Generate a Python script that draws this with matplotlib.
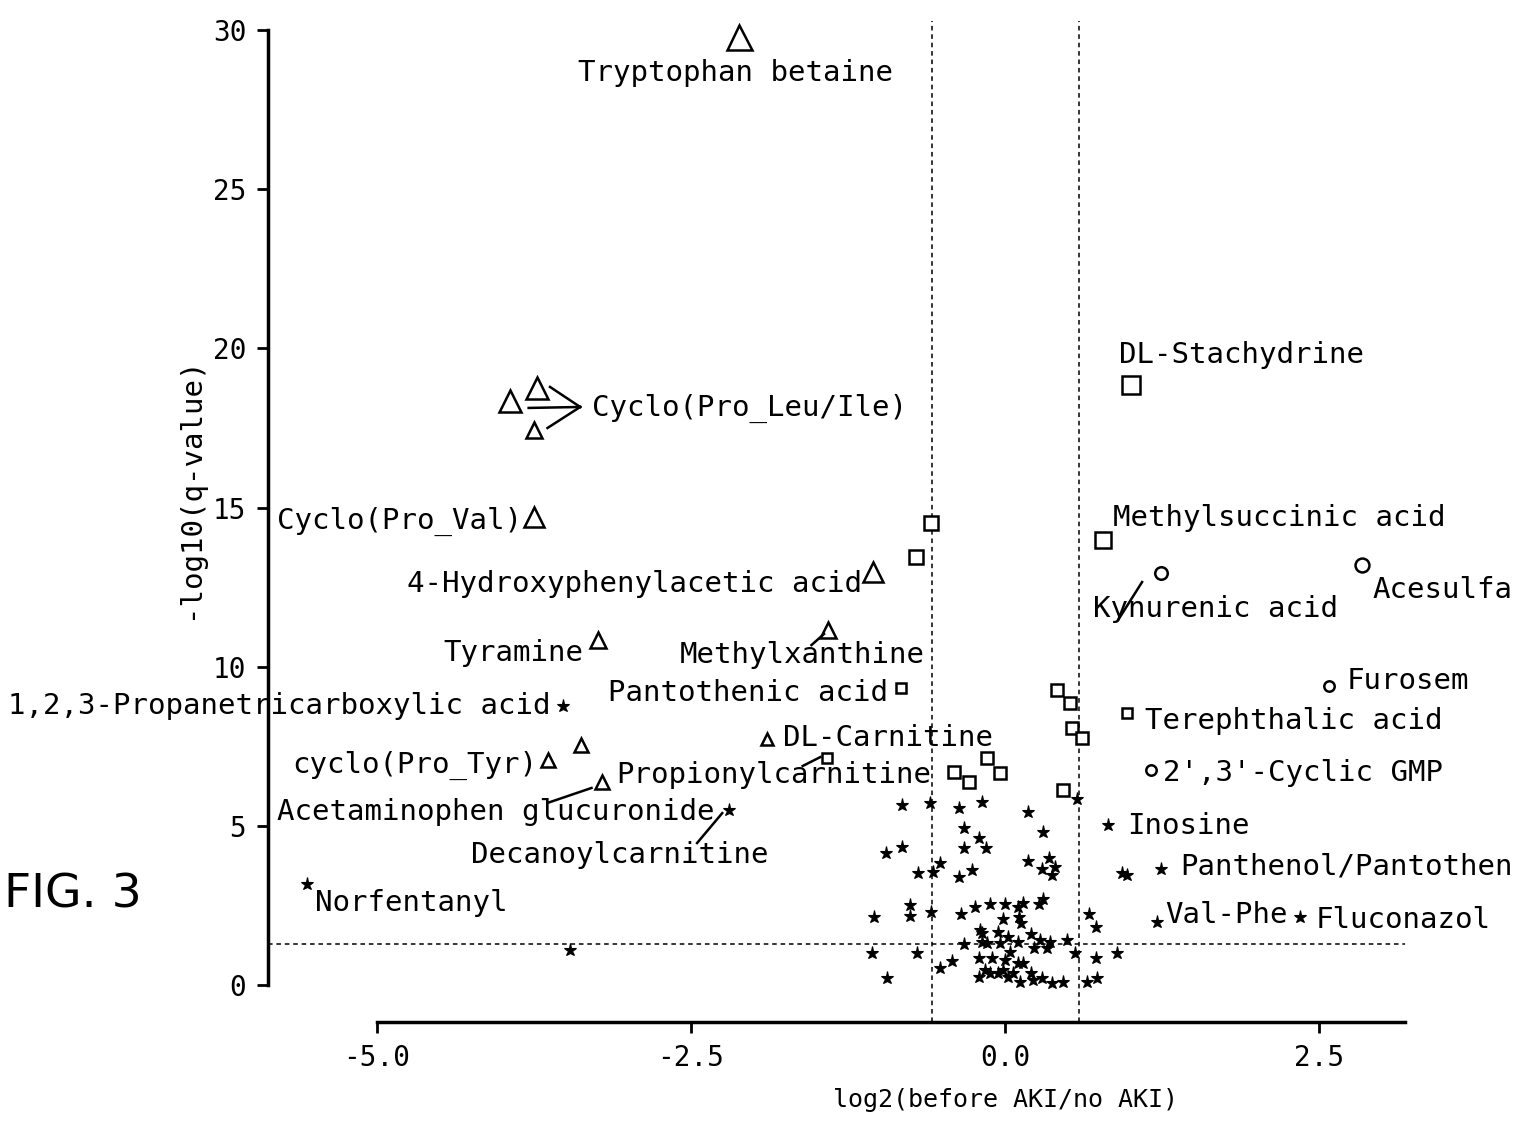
import matplotlib
matplotlib.use("Agg")
import matplotlib.pyplot as plt

plt.rcParams['font.family'] = ['DejaVu Sans Mono']

# open triangles
tri_x = [-2.12, -3.94, -3.72, -3.75, -3.75, -1.05, -1.41, -3.24, -3.64, -3.37, -3.21, -1.89]
tri_y = [29.78, 18.35, 18.76, 17.44, 14.70, 12.98, 11.15, 10.84, 7.07, 7.54, 6.38, 7.73]
# open squares
sq_x = [1.00, 0.78, -0.59, -0.71, -0.83, -1.42, -0.41, -0.29, -0.14, -0.04, 0.41, 0.52, 0.53, 0.61, 0.46, 0.97]
sq_y = [18.85, 13.98, 14.51, 13.45, 9.33, 7.13, 6.69, 6.38, 7.13, 6.66, 9.27, 8.86, 8.07, 7.76, 6.13, 8.55]
# open circles
circ_x = [1.24, 2.84, 2.58, 1.16]
circ_y = [12.94, 13.20, 9.39, 6.75]
# filled small markers
star_x = [-3.52, -2.20, -5.55, 0.82, 1.24, 1.21, 2.35, -3.46,
          -0.82, -0.60, -0.37, -0.18, 0.18, 0.57, -0.33, -0.21, -0.15, -0.33, 0.30,
          -0.95, -0.82, -0.69, -0.57, -0.52, -0.37, -0.26, 0.18, 0.29, 0.35, 0.40, 0.37,
          0.93, 0.97, -1.04, -0.76, -0.76, -0.59, -0.35, -0.24, -0.12, 0.00, 0.10, 0.14,
          0.11, 0.13, 0.27, 0.30, -0.02, 0.67, 0.72, -0.20, -0.18, -0.18, -0.06, 0.02,
          0.10, 0.21, 0.28, 0.36, 0.49, 0.56, -1.06, -0.70, -0.33, -0.14, -0.04, 0.23,
          0.33, -0.52, -0.42, -0.21, -0.10, 0.00, 0.04, -0.94, -0.21, -0.16, -0.12, -0.06,
          -0.02, 0.02, 0.06, 0.10, 0.14, 0.12, 0.21, 0.22, 0.29, 0.37, 0.46, 0.65, 0.73,
          0.72, 0.89]
star_y = [8.77, 5.50, 3.17, 5.03, 3.64, 1.98, 2.14, 1.10,
          5.66, 5.72, 5.56, 5.75, 5.44, 5.84, 4.93, 4.62, 4.30, 4.30, 4.81,
          4.15, 4.34, 3.52, 3.55, 3.83, 3.39, 3.61, 3.90, 3.64, 3.99, 3.71, 3.46,
          3.52, 3.46, 2.14, 2.51, 2.17, 2.29, 2.23, 2.45, 2.54, 2.54, 2.45, 2.58,
          2.14, 1.95, 2.54, 2.70, 2.07, 2.23, 1.82, 1.73, 1.63, 1.35, 1.67, 1.51,
          1.35, 1.60, 1.41, 1.35, 1.41, 1.01, 1.01, 1.01, 1.29, 1.32, 1.32, 1.16,
          1.16, 0.53, 0.75, 0.85, 0.85, 0.79, 1.04, 0.22, 0.25, 0.47, 0.38, 0.38,
          0.47, 0.25, 0.38, 0.69, 0.69, 0.09, 0.38, 0.16, 0.22, 0.06, 0.09, 0.09, 0.22,
          0.85, 1.01]

fc_cut = 0.585      # log2(1.5)
q_cut = 1.301       # -log10(0.05)

# marker sizes (points), styling only
tri_ms = [18, 16.5, 16.5, 11, 15, 14, 11, 11, 10.5, 9.5, 9.5, 9]
sq_ms = [13, 11.5, 10.5, 10.5, 7, 7, 8.5, 8.5, 8.5, 8.5, 8, 8, 8, 8, 8, 7]
circ_ms = [9, 10, 7.5, 7.5]

# label layout: text, left x, centre y
labels = [
    ("Tryptophan betaine", -3.40, 28.65),
    ("Cyclo(Pro_Leu/Ile)", -3.29, 18.13),
    ("Cyclo(Pro_Val)", -5.79, 14.55),
    ("4-Hydroxyphenylacetic acid", -4.76, 12.60),
    ("Tyramine", -4.47, 10.43),
    ("Methylxanthine", -2.59, 10.37),
    ("1,2,3-Propanetricarboxylic acid", -7.93, 8.77),
    ("Pantothenic acid", -3.16, 9.17),
    ("DL-Carnitine", -1.77, 7.76),
    ("cyclo(Pro_Tyr)", -5.67, 6.91),
    ("Propionylcarnitine", -3.09, 6.60),
    ("Acetaminophen glucuronide", -5.79, 5.44),
    ("Decanoylcarnitine", -4.25, 4.08),
    ("Norfentanyl", -5.49, 2.58),
    ("DL-Stachydrine", 0.91, 19.79),
    ("Methylsuccinic acid", 0.86, 14.67),
    ("Kynurenic acid", 0.70, 11.81),
    ("Acesulfa", 2.92, 12.41),
    ("Furosem", 2.72, 9.55),
    ("Terephthalic acid", 1.11, 8.29),
    ("2',3'-Cyclic GMP", 1.26, 6.66),
    ("Inosine", 0.97, 5.00),
    ("Panthenol/Pantothen", 1.39, 3.71),
    ("Val-Phe", 1.27, 2.20),
    ("Fluconazol", 2.47, 2.04),
]
leaders = [
    ((-3.62, 18.79), (-3.38, 18.16)),
    ((-3.79, 18.13), (-3.38, 18.16)),
    ((-3.64, 17.50), (-3.38, 18.16)),
    ((-1.54, 10.68), (-1.44, 11.03)),
    ((-1.61, 6.88), (-1.47, 7.16)),
    ((-3.64, 5.72), (-3.29, 6.19)),
    ((-2.45, 4.46), (-2.25, 5.40)),
    ((0.90, 11.47), (1.09, 12.66)),
]

fig = plt.figure(figsize=(15.22, 11.28), dpi=100)
ax = fig.add_axes([0.1483, 0.0901, 0.7846, 0.8973])
ax.set_xlim(-6.2, 3.3)
ax.set_ylim(-1.3, 30.5)

dash = (0, (3, 2.5))
ax.vlines([-fc_cut, fc_cut], -1.16, 30.3, colors='black', linestyles=dash, linewidth=1.1)
ax.hlines(q_cut, -5.86, 3.18, colors='black', linestyles=dash, linewidth=1.1)

ax.plot(star_x, star_y, linestyle='none', marker='*', markersize=9.5,
        color='black', markeredgewidth=0.8)
for x, y, ms in zip(tri_x, tri_y, tri_ms):
    ax.plot(x, y, marker='^', markersize=ms, markerfacecolor='white',
            markeredgecolor='black', markeredgewidth=1.8, linestyle='none')
for x, y, ms in zip(sq_x, sq_y, sq_ms):
    ax.plot(x, y, marker='s', markersize=ms, markerfacecolor='white',
            markeredgecolor='black', markeredgewidth=1.8, linestyle='none')
for x, y, ms in zip(circ_x, circ_y, circ_ms):
    ax.plot(x, y, marker='o', markersize=ms, markerfacecolor='white',
            markeredgecolor='black', markeredgewidth=1.8, linestyle='none')

for (x1, y1), (x2, y2) in leaders:
    ax.plot([x1, x2], [y1, y2], color='black', linewidth=1.8)

for txt, x, y in labels:
    ax.text(x, y, txt, ha='left', va='center', fontsize=21)

for s in ['top', 'right']:
    ax.spines[s].set_visible(False)
ax.spines['left'].set_position(('data', -5.86))
ax.spines['left'].set_bounds(0, 30)
ax.spines['bottom'].set_position(('data', -1.16))
ax.spines['bottom'].set_bounds(-5, 3.18)
for s in ['left', 'bottom']:
    ax.spines[s].set_linewidth(2.5)

ax.set_xticks([-5, -2.5, 0, 2.5])
ax.set_xticklabels(['-5.0', '-2.5', '0.0', '2.5'])
ax.set_yticks([0, 5, 10, 15, 20, 25, 30])
ax.set_yticklabels(['0', '5', '10', '15', '20', '25', '30'])
ax.tick_params(direction='out', length=8, width=2, labelsize=20, pad=8)

ax.set_xlabel('log2(before AKI/no AKI)', fontsize=18, va='center')
ax.xaxis.set_label_coords(0.6527, -0.0727)
ax.set_ylabel('-log10(q-value)', fontsize=21, va='center')
ax.yaxis.set_label_coords(-0.030, 0.532)

fig.text(4 / 1522, 1 - 895 / 1128, 'FIG. 3', ha='left', va='center',
         fontsize=34, family='DejaVu Sans')

fig.savefig('out.png', dpi=100)
